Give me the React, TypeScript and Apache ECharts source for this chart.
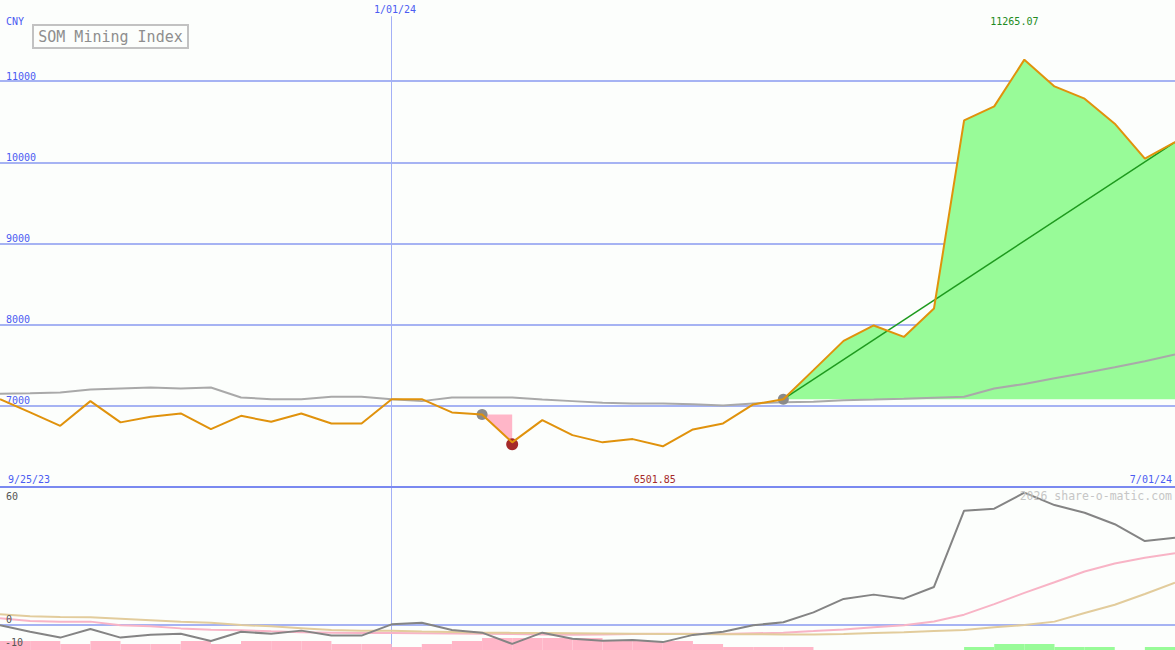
import React, { useEffect, useRef } from "react";
import * as echarts from "echarts";

// ---- data ----
const dates = [
  "10/02/23", "10/09/23", "10/16/23", "10/23/23", "10/30/23", "11/06/23", "11/13/23", "11/20/23",
  "11/27/23", "12/04/23", "12/11/23", "12/18/23", "12/25/23", "1/01/24", "1/08/24", "1/15/24",
  "1/22/24", "1/29/24", "2/05/24", "2/12/24", "2/19/24", "2/26/24", "3/04/24", "3/11/24",
  "3/18/24", "3/25/24", "4/01/24", "4/08/24", "4/15/24", "4/22/24", "4/29/24", "5/06/24",
  "5/13/24", "5/20/24", "5/27/24", "6/03/24", "6/10/24", "6/17/24", "6/24/24", "7/01/24",
];
const price = [
  7082, 6919, 6754, 7058, 6796, 6865, 6906, 6713, 6877, 6803, 6906, 6783, 6783, 7082, 7082, 6919,
  6894, 6550, 6824, 6639, 6550, 6590, 6501.85, 6709, 6783, 7017, 7082, 7440, 7800, 7990, 7849, 8199,
  10517, 10689, 11265.07, 10935, 10784, 10476, 10046, 10250,
];
const movingAvg = [
  7148, 7155, 7165, 7200, 7214, 7226, 7214, 7226, 7103, 7082, 7082, 7111, 7111, 7082, 7058, 7103,
  7103, 7103, 7078, 7058, 7037, 7029, 7029, 7021, 7005, 7029, 7045, 7049, 7070, 7078, 7088, 7100,
  7111, 7214, 7270, 7340, 7405, 7475, 7550, 7633,
];
const momentum = [
  -0.1, -3.0, -5.6, -1.8, -5.6, -4.3, -3.9, -7.1, -3.0, -3.9, -2.5, -4.7, -4.7, 0.3, 1.0, -2.2,
  -3.4, -8.4, -3.4, -6.1, -7.0, -6.7, -7.6, -4.4, -3.0, -0.1, 1.2, 5.6, 11.6, 13.5, 11.7, 16.9,
  50.8, 51.7, 58.8, 53.3, 49.9, 44.8, 37.3, 38.8,
];
const fastAvg = [
  3.0, 1.8, 1.5, 1.5, -0.1, -0.6, -1.5, -2.1, -2.3, -2.8, -3.2, -3.4, -3.6, -3.6, -3.7, -3.8,
  -3.9, -4.0, -4.2, -4.3, -4.2, -4.0, -3.9, -3.9, -4.0, -3.7, -3.4, -2.7, -1.95, -1.0, -0.1, 1.6,
  4.6, 9.3, 14.3, 19.0, 23.8, 27.3, 29.9, 31.9,
];
const slowAvg = [
  4.8, 3.9, 3.6, 3.4, 2.8, 2.1, 1.4, 1.0, 0.0, -0.6, -1.4, -2.2, -2.5, -2.5, -2.9, -3.1,
  -3.4, -3.5, -3.6, -3.7, -3.8, -3.9, -4.0, -4.0, -4.1, -4.1, -4.2, -4.2, -4.0, -3.6, -3.2, -2.7,
  -2.2, -1.0, 0.0, 1.5, 5.3, 9.0, 13.8, 18.8,
];
const histNegative = [
  3, 3, 2, 3, 2, 2, 3, 2, 3, 3, 3, 2, 2, 1, 2, 3, 4, 4, 4, 4, 3, 3, 3, 2, 1, 1, 1, 0, 0, 0, 0, 0,
  0, 0, 0, 0, 0, 0, 0, 0,
];
const histPositive = [
  0, 0, 0, 0, 0, 0, 0, 0, 0, 0, 0, 0, 0, 0, 0, 0, 0, 0, 0, 0, 0, 0, 0, 0, 0, 0, 0, 0, 0, 0, 0, 0,
  1, 2, 2, 1, 1, 0, 1, 0,
];
const priceTickStep = 1000;
const lowerTicks = ["60", "0", "-10"];
const markDate = "1/01/24";
const rangeStart = "9/25/23";
const rangeEnd = "7/01/24";
const currency = "CNY";
const title = "SOM Mining Index";
const watermark = "2026 share-o-matic.com";
const buySignals = [16, 26];
const sellSignals = [17];
const dipStart = 16;
const dipEnd = 17;
const trendStart = 26;

// ---- styles ----
const BG = "#fcfefc";
const BLUE = "#4b5cf2";
const GRID = "#a6b3f3";
const AXIS = "#7a89f0";
const MONO = '"DejaVu Sans Mono", monospace';

export default function App() {
  const ref = useRef<HTMLDivElement>(null);

  useEffect(() => {
    if (!ref.current) return;
    const chart = echarts.init(ref.current, null, { renderer: "svg" });
    const last = price.length - 1;
    const markIdx = dates.indexOf(markDate);

    const gainBase = price.map((_, i) => (i >= trendStart ? price[trendStart] : "-"));
    const gainTop = price.map((v, i) => (i >= trendStart ? v - price[trendStart] : "-"));
    const dipBase = price.map((v, i) => (i >= dipStart && i <= dipEnd ? v : "-"));
    const dipTop = price.map((v, i) => (i >= dipStart && i <= dipEnd ? price[dipStart] - v : "-"));
    const trend = price.map((v, i) => (i === trendStart || i === last ? v : "-"));

    const negBars = histNegative.map((v, i) => [i, v]).filter((d) => d[1] > 0);
    const posBars = histPositive.map((v, i) => [i, v]).filter((d) => d[1] > 0);
    const barRender = (color: string) => (params: any, api: any) => {
      const i = api.value(0);
      const v = api.value(1);
      const a = api.coord([i, v]);
      const b = api.coord([i + 1, 0]);
      return {
        type: "rect",
        shape: { x: a[0], y: a[1], width: b[0] - a[0], height: b[1] - a[1] },
        style: { fill: color },
      };
    };

    const noAxis = {
      axisLine: { show: false },
      axisTick: { show: false },
      axisLabel: { show: false },
      splitLine: { show: false },
    };

    const textStyle = (extra: any) => ({ fontFamily: MONO, fontSize: 10, fill: BLUE, ...extra });

    chart.setOption({
      animation: false,
      backgroundColor: BG,
      grid: [
        { left: 0, right: 0, top: 0, height: 487 },
        { left: 0, right: 0, top: 487, height: 163 },
      ],
      xAxis: [
        {
          type: "category",
          gridIndex: 0,
          data: dates,
          boundaryGap: false,
          axisLine: { show: true, onZero: false, lineStyle: { color: AXIS, width: 2 } },
          axisTick: { show: false },
          axisLabel: { show: false },
          splitLine: { show: false },
          z: 6,
        },
        { type: "category", gridIndex: 1, data: dates, boundaryGap: false, ...noAxis },
      ],
      yAxis: [
        {
          type: "value",
          gridIndex: 0,
          min: 6000,
          max: 12000,
          interval: priceTickStep,
          axisLine: { show: false },
          axisTick: { show: false },
          splitLine: {
            show: true,
            showMinLine: false,
            showMaxLine: false,
            lineStyle: { color: GRID, width: 2 },
          },
          axisLabel: {
            inside: true,
            showMinLabel: false,
            showMaxLabel: false,
            margin: 6,
            color: BLUE,
            fontFamily: MONO,
            fontSize: 10,
            align: "left",
            verticalAlign: "bottom",
            formatter: (v: number) => String(v),
          },
        },
        { type: "value", gridIndex: 1, min: -11.11, max: 61.33, ...noAxis },
        { type: "value", gridIndex: 1, min: 0, max: 54.33, ...noAxis },
      ],
      series: [
        {
          type: "line",
          name: "gainBase",
          xAxisIndex: 0,
          yAxisIndex: 0,
          stack: "gain",
          data: gainBase,
          showSymbol: false,
          symbol: "none",
          lineStyle: { width: 0, opacity: 0 },
          silent: true,
          z: 2,
        },
        {
          type: "line",
          name: "gainFill",
          xAxisIndex: 0,
          yAxisIndex: 0,
          stack: "gain",
          data: gainTop,
          showSymbol: false,
          symbol: "none",
          lineStyle: { width: 0, opacity: 0 },
          areaStyle: { color: "#98fb98", opacity: 1 },
          silent: true,
          z: 2,
        },
        {
          type: "line",
          name: "dipBase",
          xAxisIndex: 0,
          yAxisIndex: 0,
          stack: "dip",
          data: dipBase,
          showSymbol: false,
          symbol: "none",
          lineStyle: { width: 0, opacity: 0 },
          silent: true,
          z: 2,
        },
        {
          type: "line",
          name: "dipFill",
          xAxisIndex: 0,
          yAxisIndex: 0,
          stack: "dip",
          data: dipTop,
          showSymbol: false,
          symbol: "none",
          lineStyle: { width: 0, opacity: 0 },
          areaStyle: { color: "#ffb6c8", opacity: 1 },
          silent: true,
          z: 2,
        },
        {
          type: "line",
          name: "average",
          xAxisIndex: 0,
          yAxisIndex: 0,
          data: movingAvg,
          showSymbol: false,
          symbol: "none",
          lineStyle: { color: "#a9a9a9", width: 2 },
          z: 3,
        },
        {
          type: "line",
          name: "trend",
          xAxisIndex: 0,
          yAxisIndex: 0,
          data: trend,
          connectNulls: true,
          showSymbol: false,
          symbol: "none",
          lineStyle: { color: "#1e9a1e", width: 1.5 },
          z: 4,
        },
        {
          type: "line",
          name: "price",
          xAxisIndex: 0,
          yAxisIndex: 0,
          data: price,
          showSymbol: false,
          symbol: "none",
          lineStyle: { color: "#e0920c", width: 2 },
          z: 5,
          markLine: {
            silent: true,
            symbol: ["none", "none"],
            label: { show: false },
            lineStyle: { color: "#a3b0f6", width: 1, type: "solid" },
            data: [[{ coord: [markIdx, 6000] }, { coord: [markIdx, 11800] }]],
            z: 1,
          },
          markPoint: {
            silent: true,
            data: [
              ...buySignals.map((i) => ({
                coord: [i, price[i]],
                symbol: "circle",
                symbolSize: 11,
                itemStyle: { color: "#8a8a8a" },
                label: { show: false },
              })),
              ...sellSignals.map((i) => ({
                coord: [i, price[i]],
                symbol: "circle",
                symbolSize: 12,
                symbolOffset: [0, 2],
                itemStyle: { color: "#a52a2a" },
                label: { show: false },
              })),
              {
                type: "max",
                symbol: "circle",
                symbolSize: 1,
                itemStyle: { color: "rgba(0,0,0,0)" },
                label: {
                  show: true,
                  position: "inside",
                  offset: [-10, -38],
                  formatter: (p: any) => Number(p.value).toFixed(2),
                  color: "#228b22",
                  fontFamily: MONO,
                  fontSize: 10,
                },
              },
              {
                type: "min",
                symbol: "circle",
                symbolSize: 1,
                itemStyle: { color: "rgba(0,0,0,0)" },
                label: {
                  show: true,
                  position: "inside",
                  offset: [-8, 33],
                  formatter: (p: any) => Number(p.value).toFixed(2),
                  color: "#a52a2a",
                  fontFamily: MONO,
                  fontSize: 10,
                },
              },
            ],
          },
        },
        {
          type: "custom",
          name: "histNeg",
          xAxisIndex: 1,
          yAxisIndex: 2,
          data: negBars,
          renderItem: barRender("#ffb6c8"),
          silent: true,
          z: 1,
        },
        {
          type: "custom",
          name: "histPos",
          xAxisIndex: 1,
          yAxisIndex: 2,
          data: posBars,
          renderItem: barRender("#98fb98"),
          silent: true,
          z: 1,
        },
        {
          type: "line",
          name: "fast",
          xAxisIndex: 1,
          yAxisIndex: 1,
          data: fastAvg,
          showSymbol: false,
          symbol: "none",
          lineStyle: { color: "#f8b4c6", width: 2 },
          z: 3,
        },
        {
          type: "line",
          name: "slow",
          xAxisIndex: 1,
          yAxisIndex: 1,
          data: slowAvg,
          showSymbol: false,
          symbol: "none",
          lineStyle: { color: "#e2cc9c", width: 2 },
          z: 4,
        },
        {
          type: "line",
          name: "momentum",
          xAxisIndex: 1,
          yAxisIndex: 1,
          data: momentum,
          showSymbol: false,
          symbol: "none",
          lineStyle: { color: "#848484", width: 2 },
          z: 5,
          markLine: {
            silent: true,
            symbol: ["none", "none"],
            label: { show: false },
            data: [
              { yAxis: 0, lineStyle: { color: GRID, width: 2, type: "solid" } },
              { xAxis: markDate, lineStyle: { color: "#a3b0f6", width: 1, type: "solid" } },
            ],
            z: 1,
          },
        },
      ],
      graphic: [
        { type: "text", x: 6, y: 21, z: 100, style: textStyle({ text: currency, textVerticalAlign: "middle" }) },
        {
          type: "rect",
          shape: { x: 33, y: 25, width: 155, height: 23 },
          style: { fill: BG, stroke: "#c2c2c2", lineWidth: 2 },
          z: 100,
        },
        {
          type: "text",
          x: 110.5,
          y: 37,
          z: 101,
          style: {
            text: title,
            fontFamily: MONO,
            fontSize: 15,
            fill: "#8e8e8e",
            textAlign: "center",
            textVerticalAlign: "middle",
          },
        },
        {
          type: "text",
          x: 395,
          y: 9,
          z: 100,
          style: textStyle({ text: markDate, textAlign: "center", textVerticalAlign: "middle" }),
        },
        {
          type: "text",
          x: 8,
          y: 479,
          z: 100,
          style: textStyle({ text: rangeStart, textVerticalAlign: "middle" }),
        },
        {
          type: "text",
          x: 1172,
          y: 479,
          z: 100,
          style: textStyle({ text: rangeEnd, textAlign: "right", textVerticalAlign: "middle" }),
        },
        {
          type: "text",
          x: 1172,
          y: 496,
          z: 100,
          style: {
            text: watermark,
            fontFamily: MONO,
            fontSize: 11.5,
            fill: "#c6c6c6",
            textAlign: "right",
            textVerticalAlign: "middle",
          },
        },
        {
          type: "text",
          x: 6,
          y: 496,
          z: 100,
          style: textStyle({ text: lowerTicks[0], fill: "#555555", textVerticalAlign: "middle" }),
        },
        {
          type: "text",
          x: 6,
          y: 619,
          z: 100,
          style: textStyle({ text: lowerTicks[1], fill: "#555555", textVerticalAlign: "middle" }),
        },
        {
          type: "text",
          x: 5,
          y: 642.5,
          z: 100,
          style: textStyle({ text: lowerTicks[2], fill: "#555555", textVerticalAlign: "middle" }),
        },
      ],
    });

    return () => chart.dispose();
  }, []);

  return (
    <div
      ref={ref}
      style={{ position: "fixed", left: 0, top: 0, width: 1175, height: 650, background: BG }}
    />
  );
}
